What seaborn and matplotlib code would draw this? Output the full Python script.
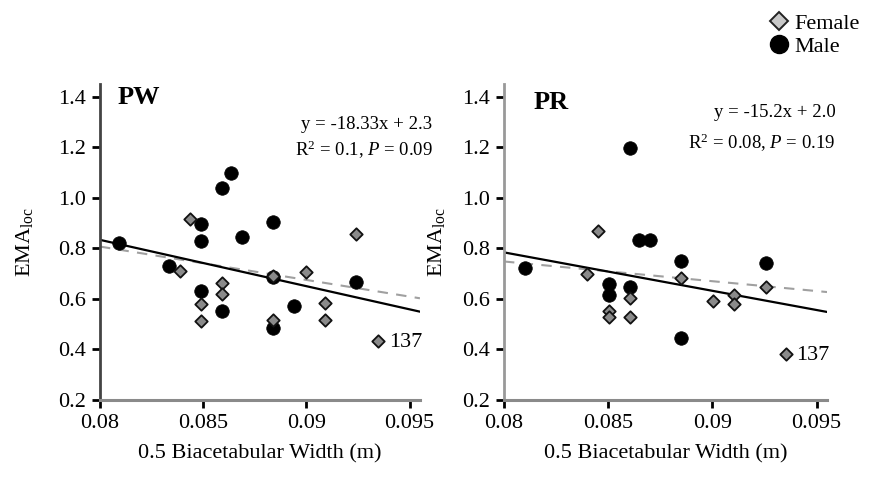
import numpy as np
import pandas as pd
import matplotlib
matplotlib.use("Agg")
import matplotlib.pyplot as plt
import seaborn as sns
from matplotlib.lines import Line2D

# ---------------- data ----------------
pw_male_x = [0.0809, 0.08335, 0.0849, 0.0849, 0.0849, 0.0859, 0.08637, 0.0859, 0.08689, 0.08836, 0.08836, 0.08836, 0.0894, 0.09242]
pw_male_y = [0.821, 0.732, 0.897, 0.830, 0.630, 1.038, 1.098, 0.552, 0.844, 0.904, 0.686, 0.484, 0.572, 0.665]
pw_female_x = [0.08435, 0.08387, 0.0849, 0.0849, 0.08592, 0.08592, 0.08836, 0.08836, 0.0900, 0.09092, 0.09092, 0.09242, 0.09345]
pw_female_y = [0.916, 0.712, 0.579, 0.514, 0.662, 0.621, 0.517, 0.692, 0.706, 0.584, 0.517, 0.857, 0.434]

pr_male_x = [0.08101, 0.08603, 0.0865, 0.08702, 0.08502, 0.08502, 0.08603, 0.08851, 0.08851, 0.09255]
pr_male_y = [0.724, 1.197, 0.831, 0.831, 0.659, 0.616, 0.649, 0.748, 0.447, 0.741]
pr_female_x = [0.0845, 0.0840, 0.08502, 0.08502, 0.08603, 0.08603, 0.08851, 0.09001, 0.09102, 0.09102, 0.09255, 0.09351]
pr_female_y = [0.870, 0.699, 0.552, 0.527, 0.603, 0.530, 0.684, 0.593, 0.616, 0.580, 0.649, 0.381]

# regression lines (slope, intercept): solid = overall fit, dashed = grey fit
pw_solid = (-18.33, 2.3)
pw_dashed = (-13.2, 1.863)
pr_solid = (-15.2, 2.0)
pr_dashed = (-7.8, 1.372)

pw_eq = ["y = -18.33x + 2.3", r"R$^2$ = 0.1, $P$ = 0.09"]
pr_eq = ["y = -15.2x + 2.0", r"R$^2$ = 0.08, $P$ = 0.19"]

x_ticks = [0.08, 0.085, 0.09, 0.095]
x_tick_labels = ["0.08", "0.085", "0.09", "0.095"]
y_ticks = [0.2, 0.4, 0.6, 0.8, 1.0, 1.2, 1.4]
y_tick_labels = ["0.2", "0.4", "0.6", "0.8", "1.0", "1.2", "1.4"]

# ---------------- style ----------------
sns.set_theme(style="white")
plt.rcParams["font.family"] = ["Liberation Serif", "DejaVu Serif"]
plt.rcParams["mathtext.fontset"] = "custom"
plt.rcParams["mathtext.rm"] = "Liberation Serif"
plt.rcParams["mathtext.it"] = "Liberation Serif:italic"
plt.rcParams["mathtext.bf"] = "Liberation Serif:bold"
plt.rcParams["text.color"] = "black"
plt.rcParams["axes.labelcolor"] = "black"
plt.rcParams["xtick.color"] = "black"
plt.rcParams["ytick.color"] = "black"

fig = plt.figure(figsize=(8.7, 4.79), dpi=100)
ax1 = fig.add_axes([0.1149, 0.1649, 0.3678, 0.6597])
ax2 = fig.add_axes([0.5793, 0.1649, 0.3713, 0.6597])

XLIM = (0.08, 0.0955)


def make_df(mx, my, fx, fy):
    return pd.DataFrame({
        "x": list(fx) + list(mx),
        "y": list(fy) + list(my),
        "sex": ["Female"] * len(fx) + ["Male"] * len(mx),
    })


def draw(ax, df, solid, dashed, title, eq, eq_pos, title_pos, lab_pos, left_spine_col):
    xs = np.array(XLIM)
    sns.lineplot(x=xs, y=dashed[0] * xs + dashed[1], ax=ax, color="#a0a0a0",
                 lw=1.5, linestyle=(0, (5, 4)), zorder=1)
    sns.lineplot(x=xs, y=solid[0] * xs + solid[1], ax=ax, color="black",
                 lw=1.6, zorder=2)
    fem = df[df.sex == "Female"]
    mal = df[df.sex == "Male"]
    sns.scatterplot(data=mal, x="x", y="y", ax=ax, marker="o", s=95,
                    color="black", edgecolor="black", linewidth=0.5, zorder=3, legend=False)
    sns.scatterplot(data=fem, x="x", y="y", ax=ax, marker="D", s=40,
                    color="#8a8a8a", edgecolor="#111111", linewidth=1.3, zorder=4, legend=False)
    ax.set_xlim(*XLIM)
    ax.set_ylim(0.2, 1.45)
    ax.set_xticks(x_ticks)
    ax.set_xticklabels(x_tick_labels)
    ax.set_yticks(y_ticks)
    ax.set_yticklabels(y_tick_labels)
    ax.tick_params(axis="both", which="major", labelsize=16, direction="out",
                   length=6, width=2, color="black", left=True, bottom=True, pad=4)
    for s in ["top", "right"]:
        ax.spines[s].set_visible(False)
    ax.spines["left"].set_color(left_spine_col)
    ax.spines["left"].set_linewidth(2)
    ax.spines["bottom"].set_color("#8a8a8a")
    ax.spines["bottom"].set_linewidth(2.2)
    ax.set_xlabel("0.5 Biacetabular Width (m)", fontsize=16, labelpad=8)
    ax.set_ylabel(r"EMA$_{\mathrm{loc}}$", fontsize=16)
    ax.text(title_pos[0], title_pos[1], title, fontsize=19, fontweight="bold",
            ha="left", va="center")
    ax.text(eq_pos[0], eq_pos[1], eq[0], fontsize=13.5, ha="right", va="center")
    ax.text(eq_pos[0], eq_pos[2], eq[1], fontsize=13.5, ha="right", va="center")
    ax.text(lab_pos[0], lab_pos[1], "137", fontsize=16, ha="left", va="center")


draw(ax1, make_df(pw_male_x, pw_male_y, pw_female_x, pw_female_y), pw_solid, pw_dashed,
     "PW", pw_eq, (0.09611, 1.289, 1.190), (0.08087, 1.396), (0.09403, 0.426), "#444444")
draw(ax2, make_df(pr_male_x, pr_male_y, pr_female_x, pr_female_y), pr_solid, pr_dashed,
     "PR", pr_eq, (0.09591, 1.337, 1.218), (0.0814, 1.376), (0.0940, 0.378), "#999999")

ax1.yaxis.set_label_coords(-0.203, 0.5)
ax2.yaxis.set_label_coords(-0.176, 0.5)

handles = [
    Line2D([], [], marker="D", linestyle="none", markersize=9, markerfacecolor="#c8c8c8",
           markeredgecolor="#222222", markeredgewidth=1.4),
    Line2D([], [], marker="o", linestyle="none", markersize=13, markerfacecolor="black",
           markeredgecolor="black"),
]
fig.legend(handles, ["Female", "Male"], loc="upper left",
           bbox_to_anchor=(752 / 870, 1.0), frameon=False, fontsize=16,
           handletextpad=0.1, labelspacing=0.1, handlelength=1.2, borderaxespad=0.2)

fig.savefig("out.png", dpi=100)
